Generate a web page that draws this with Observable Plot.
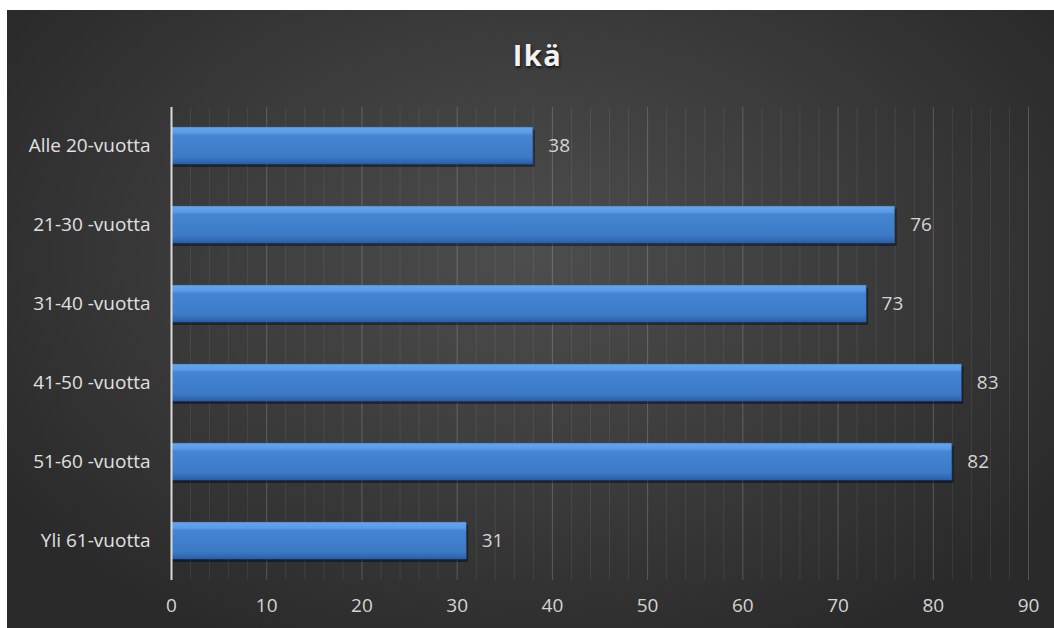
<!DOCTYPE html>
<html>
<head>
<meta charset="utf-8">
<script src="https://cdn.jsdelivr.net/npm/d3@7"></script>
<script src="https://cdn.jsdelivr.net/npm/@observablehq/plot@0.6"></script>
<style>
  html, body { margin: 0; padding: 0; background: #ffffff; }
  #page { position: relative; width: 1054px; height: 628px; overflow: hidden; background: #fff; }
  #panel {
    position: absolute; left: 7px; top: 10px; width: 1047px; height: 618px;
    background: radial-gradient(ellipse 60% 70% at 50% 40%, #4d4d4d 0%, #3e3e3e 45%, #2a2a2a 100%);
    font-family: "Open Sans", "Noto Sans", sans-serif;
  }
  #title {
    height: 80px; line-height: 90px; text-align: center; color: #f2f2f2; padding-left: 14px;
    font-size: 29px; font-weight: bold; letter-spacing: 1.5px;
    text-shadow: 1px 2px 3px rgba(0,0,0,0.7);
  }
  #chart svg { display: block; }
</style>
</head>
<body>
<div id="page"><div id="panel"><div id="title">Ikä</div><div id="chart"></div></div></div>
<script>
const categories = ["Alle 20-vuotta", "21-30 -vuotta", "31-40 -vuotta", "41-50 -vuotta", "51-60 -vuotta", "Yli 61-vuotta"];
const values = [38, 76, 73, 83, 82, 31];
const majorTicks = [0, 10, 20, 30, 40, 50, 60, 70, 80, 90];
const minorTicks = d3.range(0, 91, 2).filter(v => v % 10 !== 0);

const data = categories.map((c, i) => ({category: c, value: values[i]}));

const chart = Plot.plot({
  width: 1047,
  height: 538,
  marginLeft: 164,
  marginRight: 26,
  marginTop: 17,
  marginBottom: 48,
  style: {background: "transparent", color: "#d4d4d4", fontFamily: "'Open Sans', 'Noto Sans', sans-serif", fontSize: "19px"},
  x: {domain: [0, 90], ticks: majorTicks, label: null},
  y: {domain: categories, label: null, paddingInner: 0.53, paddingOuter: 0.24},
  marks: [
    Plot.ruleX(minorTicks, {stroke: "#ffffff", strokeOpacity: 0.08, strokeWidth: 1}),
    Plot.ruleX(majorTicks.filter(v => v > 0), {stroke: "#ffffff", strokeOpacity: 0.2, strokeWidth: 1}),
    Plot.barX(data, {x: "value", y: "category", fill: "#000", fillOpacity: 0.4, dx: 2, dy: 3}),
    Plot.barX(data, {x: "value", y: "category", fill: "url(#barGrad)", stroke: "#2a5ea8", strokeWidth: 0.5}),
    Plot.ruleX([0], {stroke: "#d9d9d9", strokeWidth: 2}),
    Plot.text(data, {x: "value", y: "category", text: d => String(d.value), dx: 15, textAnchor: "start", fill: "#d4d4d4", fontSize: 19}),
    Plot.axisX({ticks: majorTicks, tickSize: 0, tickPadding: 18, label: null, fill: "#d4d4d4", fontSize: 19}),
    Plot.axisY({tickSize: 0, tickPadding: 21, label: null, fill: "#e0e0e0", fontSize: 19})
  ]
});

const defs = d3.select(chart).insert("defs", ":first-child");
const g = defs.append("linearGradient").attr("id", "barGrad").attr("x1", 0).attr("y1", 0).attr("x2", 0).attr("y2", 1);
g.append("stop").attr("offset", "0%").attr("stop-color", "#62a6f0");
g.append("stop").attr("offset", "16%").attr("stop-color", "#5b9be6");
g.append("stop").attr("offset", "22%").attr("stop-color", "#4585d2");
g.append("stop").attr("offset", "80%").attr("stop-color", "#3c7ac6");
g.append("stop").attr("offset", "100%").attr("stop-color", "#2c5fa6");

document.getElementById("chart").appendChild(chart);
</script>
</body>
</html>
